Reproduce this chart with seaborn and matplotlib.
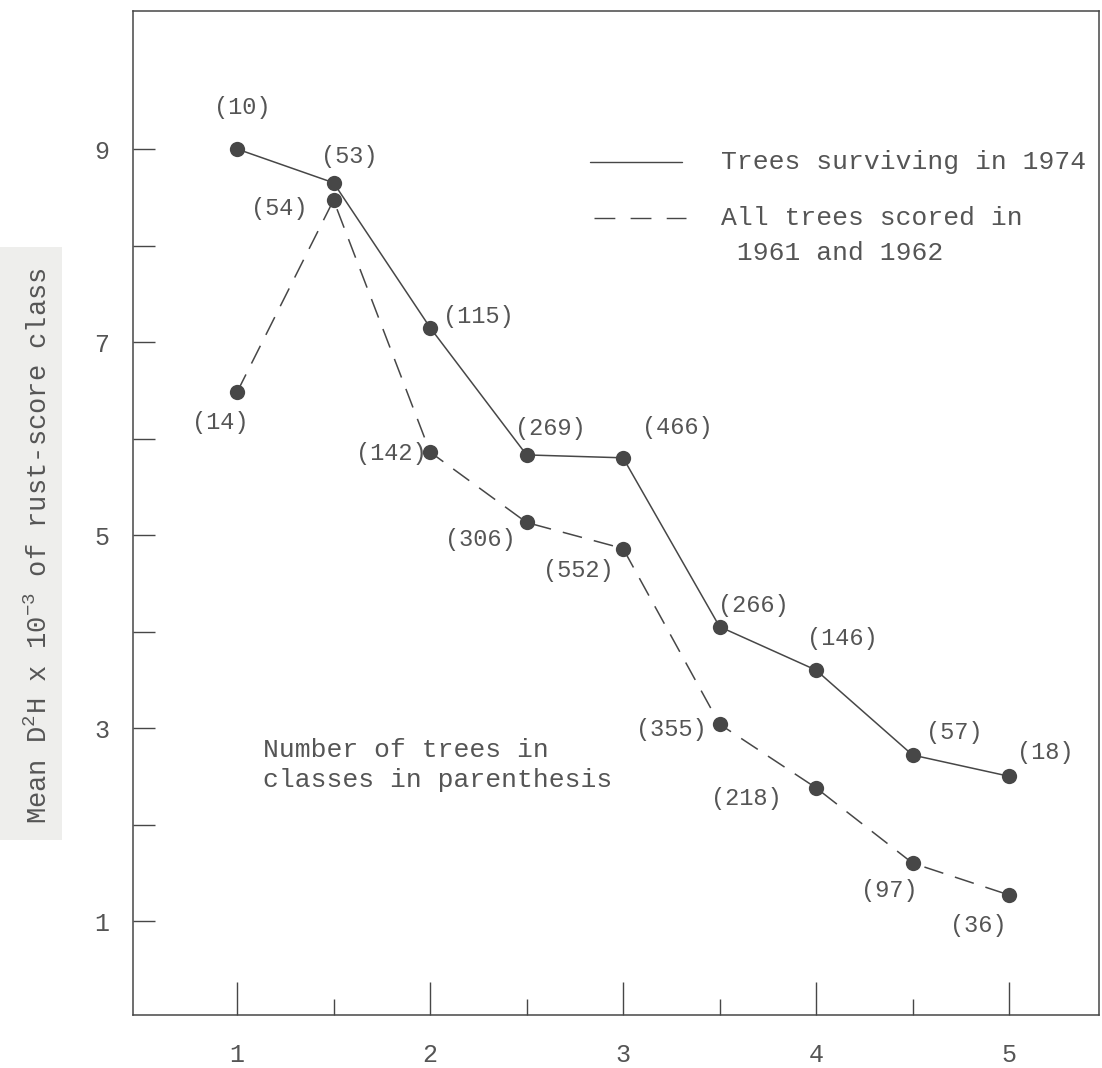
import matplotlib
matplotlib.use("Agg")
import matplotlib.pyplot as plt
import pandas as pd
import seaborn as sns
from matplotlib.lines import Line2D
from matplotlib.patches import Rectangle

# rust-score classes
score_class = [1, 1.5, 2, 2.5, 3, 3.5, 4, 4.5, 5]

# mean D^2H x 10^-3
surviving_1974 = [9.0, 8.65, 7.15, 5.83, 5.8, 4.05, 3.6, 2.72, 2.5]
all_scored_6162 = [6.48, 8.47, 5.86, 5.13, 4.86, 3.04, 2.38, 1.6, 1.27]

# number of trees in each class
n_surviving = [10, 53, 115, 269, 466, 266, 146, 57, 18]
n_all_scored = [14, 54, 142, 306, 552, 355, 218, 97, 36]

# label offsets (points) for the counts
off_surviving = [(4, 30), (11, 19), (35, 8), (17, 19), (39, 22), (24, 15), (19, 23), (30, 16), (26, 17)]
off_all_scored = [(-12, -22), (-39, -6), (-28, -1), (-33, -12), (-32, -16), (-35, -4), (-50, -8), (-17, -20), (-22, -22)]

df = pd.DataFrame({
    'score': score_class * 2,
    'd2h': surviving_1974 + all_scored_6162,
    'group': ['surv'] * len(score_class) + ['all'] * len(score_class),
})

sns.set_style('white')
plt.rcParams['font.family'] = ['Liberation Mono', 'DejaVu Sans Mono']
plt.rcParams['mathtext.fontset'] = 'custom'
plt.rcParams['mathtext.rm'] = 'Liberation Mono'
plt.rcParams['mathtext.it'] = 'Liberation Mono'

ink = '#474747'
txt = '#555555'

fig = plt.figure(figsize=(11.02, 10.68), dpi=100)
ax = fig.add_axes([0.1207, 0.0496, 0.8766, 0.9401])

# grey strip behind the y label (scan artefact)
fig.patches.append(Rectangle((0, 0.2135), 0.0563, 0.555, transform=fig.transFigure,
                             facecolor='#eeeeec', edgecolor='none', zorder=-1))

sns.lineplot(data=df, x='score', y='d2h', style='group', sort=False,
             markers={'surv': 'o', 'all': 'o'}, dashes={'surv': '', 'all': (13, 8)},
             color=ink, linewidth=1.1, markersize=11, markeredgewidth=0,
             legend=False, ax=ax)

for xv, yv, n, off in zip(score_class, surviving_1974, n_surviving, off_surviving):
    ax.annotate(f'({n})', (xv, yv), xytext=off, textcoords='offset points',
                ha='center', va='center', fontsize=17, color=txt)
for xv, yv, n, off in zip(score_class, all_scored_6162, n_all_scored, off_all_scored):
    ax.annotate(f'({n})', (xv, yv), xytext=off, textcoords='offset points',
                ha='center', va='center', fontsize=17, color=txt)

# legend drawn as in the typed original
ax.add_line(Line2D([0.473, 0.568], [0.850, 0.850], transform=ax.transAxes, color=ink, lw=1.0))
ax.add_line(Line2D([0.477, 0.572], [0.794, 0.794], transform=ax.transAxes, color=ink, lw=1.0,
                   dashes=(15, 11)))
ax.text(0.609, 0.850, 'Trees surviving in 1974', transform=ax.transAxes,
        va='center', ha='left', fontsize=19, color=txt)
ax.text(0.609, 0.794, 'All trees scored in', transform=ax.transAxes,
        va='center', ha='left', fontsize=19, color=txt)
ax.text(0.609, 0.759, ' 1961 and 1962', transform=ax.transAxes,
        va='center', ha='left', fontsize=19, color=txt)

ax.text(0.135, 0.249, 'Number of trees in\nclasses in parenthesis', transform=ax.transAxes,
        va='center', ha='left', fontsize=19, color=txt, linespacing=1.35)

ax.set_xlim(0.461, 5.466)
ax.set_ylim(0.026, 10.43)
ax.set_xticks([1, 2, 3, 4, 5])
ax.set_xticks([1.5, 2.5, 3.5, 4.5], minor=True)
ax.set_yticks([1, 3, 5, 7, 9])
ax.set_yticks([2, 4, 6, 8], minor=True)
ax.set_xticklabels(['1', '2', '3', '4', '5'], fontsize=18, color=txt)
ax.set_yticklabels(['1', '3', '5', '7', '9'], fontsize=18, color=txt)
ax.tick_params(axis='x', which='major', bottom=True, direction='in', length=24, width=1.0,
               color=ink, pad=20)
ax.tick_params(axis='x', which='minor', bottom=True, direction='in', length=11.5, width=1.0,
               color=ink)
ax.tick_params(axis='y', which='both', left=True, direction='in', length=16, width=1.0,
               color=ink, pad=17)

ax.set_xlabel('')
ax.set_ylabel('Mean D$^{2}$H x 10$^{-3}$ of rust-score class', fontsize=19.5, color=txt)
ax.yaxis.set_label_coords(-0.083, 0.468)

for side in ['left', 'right', 'top', 'bottom']:
    ax.spines[side].set_visible(True)
    ax.spines[side].set_color(ink)
    ax.spines[side].set_linewidth(1.1)

fig.savefig('out.png', dpi=100)
